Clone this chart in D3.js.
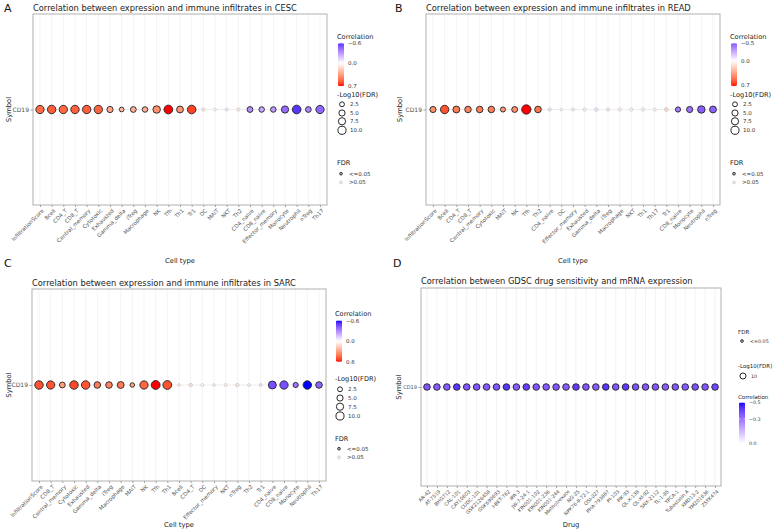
<!DOCTYPE html>
<html>
<head>
<meta charset="utf-8">
<script src="https://cdn.jsdelivr.net/npm/d3@7"></script>
<style>
body { margin: 0; background: #fff; }
text { font-family: "DejaVu Sans", sans-serif; }
</style>
</head>
<body>
<svg id="fig" width="777" height="532"></svg>
<script>
/* ======================================
   Data
   ====================================== */
var geneRow = ["CD19"];

var cescCells = ["InfiltrationScore","Bcell","CD4_T","CD8_T","Central_memory","Cytotoxic","Exhausted","Gamma_delta","iTreg","Macrophage","NK","Tfh","Th1","Tr1","DC","MAIT","NKT","Th2","CD4_naive","CD8_naive","Effector_memory","Monocyte","Neutrophil","nTreg","Th17"];
var cescCor = [0.52,0.56,0.52,0.55,0.56,0.54,0.32,0.26,0.30,0.29,0.40,0.70,0.38,0.62,0.10,0.03,-0.07,0.10,-0.33,-0.26,-0.30,-0.44,-0.60,-0.36,-0.46];
var cescLogFdr = [8.6,9.0,8.6,8.8,8.8,8.8,4.0,1.7,3.3,2.8,6.6,9.8,5.2,9.4,0.5,0.2,0.4,0.5,3.3,2.8,2.9,6.0,9.6,3.2,8.5];
var cescCorTicks = [-0.6, 0.0, 0.7];

var readCells = ["InfiltrationScore","Bcell","CD4_T","CD8_T","Central_memory","Cytotoxic","MAIT","NK","Tfh","Th2","CD4_naive","DC","Effector_memory","Exhausted","Gamma_delta","iTreg","Macrophage","NKT","Th1","Th17","Tr1","CD8_naive","Monocyte","Neutrophil","nTreg"];
var readCor = [0.42,0.60,0.48,0.46,0.47,0.47,0.38,0.42,0.72,0.50,-0.12,-0.04,-0.05,-0.06,-0.12,0.10,0.07,0.07,0.06,0.04,0.20,-0.40,-0.44,-0.50,-0.48];
var readLogFdr = [3.9,8.8,5.2,4.6,4.6,4.6,2.2,3.4,11.5,4.8,0.5,0.2,0.3,0.4,0.6,0.4,0.4,0.4,0.4,0.3,0.8,2.4,3.9,6.6,5.2];
var readCorTicks = [-0.5, 0.0, 0.7];

var sarcCells = ["InfiltrationScore","CD8_T","Central_memory","Cytotoxic","Exhausted","Gamma_delta","iTreg","Macrophage","MAIT","NK","Tfh","Th1","Bcell","CD4_T","DC","Effector_memory","NKT","nTreg","Th2","Tr1","CD4_naive","CD8_naive","Monocyte","Neutrophil","Th17"];
var sarcCor = [0.50,0.50,0.30,0.52,0.50,0.40,0.38,0.40,0.28,0.46,0.60,0.50,0.05,0.12,0.04,0.02,0.05,0.10,0.03,-0.10,-0.45,-0.45,-0.35,-0.60,-0.40];
var sarcLogFdr = [9.0,8.5,3.3,9.0,9.0,4.7,4.7,5.3,1.5,8.5,10.0,10.0,0.2,0.6,0.3,0.2,0.3,0.6,0.2,0.3,7.7,8.5,2.3,9.0,4.7];
var sarcCorTicks = [-0.6, 0.0, 0.6];

var drugs = ["AR-42","AT-7519","BHG712","CAL-101","CAY10603","CUDC-101","GSK2126458","GSK690693","I-BET-762","IPA-3","JW-7-24-1","KIN001-102","KIN001-236","KIN001-244","Methotrexate","NG-25","NPK76-II-72-1","OSI-027","PHA-793887","PI-103","PIK-93","QL-X-138","QL-XI-92","SNX-2112","TL-1-85","TPCA-1","Tubastatin A","XMD13-2","YM201636","ZSTK474"];
var drugCor = [-0.36,-0.35,-0.35,-0.43,-0.36,-0.36,-0.35,-0.36,-0.43,-0.35,-0.41,-0.36,-0.35,-0.36,-0.35,-0.42,-0.36,-0.35,-0.43,-0.36,-0.42,-0.37,-0.36,-0.36,-0.35,-0.36,-0.35,-0.37,-0.36,-0.39];
var drugLogFdr = [10,10,10,10,10,10,10,10,10,10,10,10,10,10,10,10,10,10,10,10,10,10,10,10,10,10,10,10,10,10];
var drugCorTicks = [-0.5, -0.3, 0.0];

var sizeTicks = [2.5, 5.0, 7.5, 10.0];
var drugSizeTicks = [10];
var fdrLabels = ["<=0.05", ">0.05"];
var sigCut = -Math.log10(0.05);

/* ======================================
   Layout
   ====================================== */
var svg = d3.select("#fig");

var panels = [
  { letter: "A", letterX: 4, letterY: 12, title: "Correlation between expression and immune infiltrates in CESC", titleX: 33, titleY: 11,
    cats: cescCells, cor: cescCor, fdr: cescLogFdr, corTicks: cescCorTicks, sizeTicks: sizeTicks, kind: "div",
    x0: 33, x1: 327, y0: 14, y1: 205, xTitle: "Cell type", xTitleY: 263, yTitleX: 9, tickFont: 5.4, yFont: 6, rMax: 4.4,
    lgFont: 6.6, lgLab: 5.5,
    lg: { x: 337, cor: 36.7, barTop: 43.3, barBot: 86, size: 95, sizeKeys: [104.3,113,121.3,130.3], fdr: 162.3, fdrKeys: [173.7,182.5] } },
  { letter: "B", letterX: 395, letterY: 12, title: "Correlation between expression and immune infiltrates in READ", titleX: 426, titleY: 11,
    cats: readCells, cor: readCor, fdr: readLogFdr, corTicks: readCorTicks, sizeTicks: sizeTicks, kind: "div",
    x0: 426, x1: 720, y0: 14, y1: 205, xTitle: "Cell type", xTitleY: 263, yTitleX: 400, tickFont: 5.4, yFont: 6, rMax: 4.4,
    lgFont: 6.6, lgLab: 5.5,
    lg: { x: 730, cor: 36.7, barTop: 43.3, barBot: 86, size: 95, sizeKeys: [104.3,113,121.3,130.3], fdr: 162.3, fdrKeys: [173.7,182.5] } },
  { letter: "C", letterX: 4, letterY: 267, title: "Correlation between expression and immune infiltrates in SARC", titleX: 32, titleY: 286,
    cats: sarcCells, cor: sarcCor, fdr: sarcLogFdr, corTicks: sarcCorTicks, sizeTicks: sizeTicks, kind: "div",
    x0: 32, x1: 326, y0: 289, y1: 481, xTitle: "Cell type", xTitleY: 527, yTitleX: 9, tickFont: 5.4, yFont: 6, rMax: 4.4,
    lgFont: 6.6, lgLab: 5.5,
    lg: { x: 335, cor: 313.3, barTop: 320.7, barBot: 361.7, size: 378.5, sizeKeys: [389.3,398,406.7,416], fdr: 438.3, fdrKeys: [448.7,457.3] } },
  { letter: "D", letterX: 393, letterY: 267, title: "Correlation between GDSC drug sensitivity and mRNA expression", titleX: 421, titleY: 284,
    cats: drugs, cor: drugCor, fdr: drugLogFdr, corTicks: drugCorTicks, sizeTicks: drugSizeTicks, kind: "seq",
    x0: 421, x1: 721, y0: 288, y1: 486, xTitle: "Drug", xTitleY: 527, yTitleX: 399, tickFont: 4.9, yFont: 5, rMax: 3.3,
    lgFont: 5.5, lgLab: 4.8,
    lg: { x: 738, fdr: 331.7, fdrKeys: [341], size: 365.7, sizeKeys: [376], cor: 396.8, barTop: 402.7, barBot: 443.3 } }
];

var blue = d3.interpolateLab("white", "blue");
var red = d3.interpolateLab("white", "red");

function colorFn(p) {
  if (p.kind === "seq") {
    var lo = d3.min(p.corTicks);
    return function(v) { return blue(Math.min(1, v / lo)); };
  }
  var m = d3.max(p.cor, function(v) { return Math.abs(v); });
  return function(v) { return v >= 0 ? red(v / m) : blue(-v / m); };
}

function drawPanel(p, idx) {
  var g = svg.append("g");
  var col = colorFn(p);
  var r = d3.scaleSqrt().domain([0, 10]).range([0.9, p.rMax]);
  if (p.kind === "seq") r = d3.scaleSqrt().domain([0, 10]).range([0, p.rMax]);

  var x = d3.scalePoint().domain(p.cats).range([p.x0, p.x1]).padding(0.6);
  var y = d3.scalePoint().domain(geneRow).range([p.y0, p.y1]).padding(0.5);

  g.append("text").attr("x", p.letterX).attr("y", p.letterY).attr("font-size", 11).attr("fill", "#111").text(p.letter);
  g.append("text").attr("x", p.titleX).attr("y", p.titleY).attr("font-size", 8.3).attr("fill", "#222").text(p.title);

  // grid
  g.selectAll(".vg").data(p.cats).enter().append("line")
    .attr("x1", function(d) { return x(d); }).attr("x2", function(d) { return x(d); })
    .attr("y1", p.y0).attr("y2", p.y1)
    .attr("stroke", "#ebebeb").attr("stroke-width", 0.6);
  g.append("line").attr("x1", p.x0).attr("x2", p.x1).attr("y1", y("CD19")).attr("y2", y("CD19"))
    .attr("stroke", "#e0e0e0").attr("stroke-width", 0.6);

  // axes
  var xa = g.append("g").attr("transform", "translate(0," + p.y1 + ")")
    .call(d3.axisBottom(x).tickSize(2).tickSizeOuter(0));
  xa.select(".domain").remove();
  xa.selectAll("line").attr("stroke", "#444").attr("stroke-width", 0.5);
  xa.selectAll("text")
    .attr("font-size", p.tickFont).attr("fill", "#505050")
    .attr("x", 0).attr("y", 0).attr("dy", "0.7em")
    .attr("transform", "translate(1,3.5) rotate(-45)")
    .style("text-anchor", "end");

  var ya = g.append("g").attr("transform", "translate(" + p.x0 + ",0)")
    .call(d3.axisLeft(y).tickSize(2.5).tickPadding(1.5).tickSizeOuter(0));
  ya.select(".domain").remove();
  ya.selectAll("line").attr("stroke", "#444").attr("stroke-width", 0.5);
  ya.selectAll("text").attr("font-size", p.yFont).attr("fill", "#505050");

  // points
  var pts = p.cats.map(function(c, i) { return { cat: c, cor: p.cor[i], fdr: p.fdr[i], sig: p.fdr[i] >= sigCut }; });
  g.selectAll(".pt").data(pts).enter().append("circle")
    .attr("cx", function(d) { return x(d.cat); })
    .attr("cy", y("CD19"))
    .attr("r", function(d) { return r(d.fdr); })
    .attr("fill", function(d) { return col(d.cor); })
    .attr("fill-opacity", function(d) { return d.sig ? 1 : 0.8; })
    .attr("stroke", function(d) { return d.sig ? "#222" : "#c4c4c4"; })
    .attr("stroke-width", function(d) { return d.sig ? 0.9 : 0.7; });

  // border
  g.append("rect").attr("x", p.x0).attr("y", p.y0).attr("width", p.x1 - p.x0).attr("height", p.y1 - p.y0)
    .attr("fill", "none").attr("stroke", "#a8a8a8").attr("stroke-width", 0.9);

  // axis titles
  g.append("text").attr("x", (p.x0 + p.x1) / 2).attr("y", p.xTitleY).attr("text-anchor", "middle")
    .attr("font-size", 6.8).attr("fill", "#222").text(p.xTitle);
  g.append("text").attr("transform", "translate(" + p.yTitleX + "," + y("CD19") + ") rotate(-90)")
    .attr("text-anchor", "middle").attr("dy", "0.35em").attr("font-size", 6.8).attr("fill", "#222").text("Symbol");

  drawLegend(g, p, col, r, idx);
}

function drawLegend(g, p, col, r, idx) {
  var L = p.lg;
  var keyX = L.x + 5, labX = L.x + 13;

  function title(yc, txt) {
    g.append("text").attr("x", L.x).attr("y", yc).attr("dy", "0.35em").attr("font-size", p.lgFont).attr("fill", "#222").text(txt);
  }

  // colour bar
  title(L.cor, "Correlation");
  var lo = p.kind === "seq" ? d3.min(p.corTicks) : d3.min(p.cor);
  var hi = p.kind === "seq" ? d3.max(p.corTicks) : d3.max(p.cor);
  var gid = "grad" + idx;
  var grad = svg.append("defs").append("linearGradient").attr("id", gid)
    .attr("x1", 0).attr("x2", 0).attr("y1", 0).attr("y2", 1);
  d3.range(0, 21).forEach(function(i) {
    var v = lo + (hi - lo) * i / 20;
    grad.append("stop").attr("offset", (i * 5) + "%").attr("stop-color", col(v));
  });
  var by = d3.scaleLinear().domain([lo, hi]).range([L.barTop, L.barBot]);
  g.append("rect").attr("x", L.x + 1).attr("y", L.barTop).attr("width", 6).attr("height", L.barBot - L.barTop)
    .attr("fill", "url(#" + gid + ")");
  p.corTicks.forEach(function(t) {
    var yy = by(Math.max(lo, Math.min(hi, t)));
    g.append("line").attr("x1", L.x + 1).attr("x2", L.x + 2.3).attr("y1", yy).attr("y2", yy).attr("stroke", "#fff").attr("stroke-width", 0.6);
    g.append("line").attr("x1", L.x + 5.7).attr("x2", L.x + 7).attr("y1", yy).attr("y2", yy).attr("stroke", "#fff").attr("stroke-width", 0.6);
    g.append("text").attr("x", L.x + 11).attr("y", yy).attr("dy", "0.35em").attr("font-size", p.lgLab).attr("fill", "#333")
      .text(d3.format(".1f")(t));
  });

  // size legend
  title(L.size, "-Log10(FDR)");
  p.sizeTicks.forEach(function(v, i) {
    g.append("circle").attr("cx", keyX).attr("cy", L.sizeKeys[i]).attr("r", r(v) * 0.92)
      .attr("fill", "#fff").attr("stroke", "#111").attr("stroke-width", 0.9);
    g.append("text").attr("x", labX).attr("y", L.sizeKeys[i]).attr("dy", "0.35em").attr("font-size", p.lgLab).attr("fill", "#333")
      .text(p.kind === "seq" ? d3.format("d")(v) : d3.format(".1f")(v));
  });

  // FDR legend
  title(L.fdr, "FDR");
  L.fdrKeys.forEach(function(yy, i) {
    var sig = i === 0;
    g.append("circle").attr("cx", keyX - 1).attr("cy", yy).attr("r", 1.4)
      .attr("fill", sig ? "#aaa" : "#eee").attr("stroke", sig ? "#222" : "#c8c8c8").attr("stroke-width", 0.8);
    g.append("text").attr("x", labX - 1).attr("y", yy).attr("dy", "0.35em").attr("font-size", p.lgLab).attr("fill", "#333")
      .text(fdrLabels[i]);
  });
}

panels.forEach(drawPanel);
</script>
</body>
</html>
